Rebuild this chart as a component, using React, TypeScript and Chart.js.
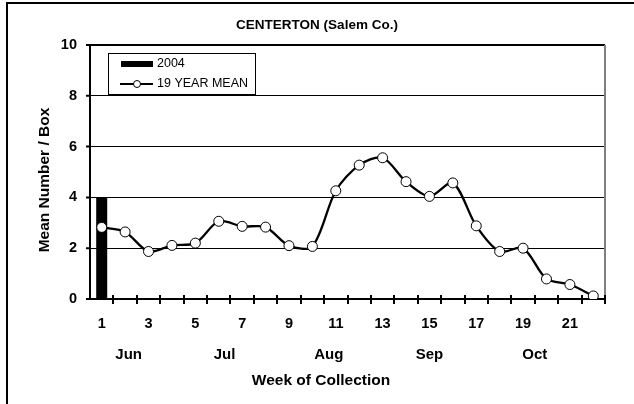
import React, { useEffect, useRef } from "react";
import { Chart, registerables } from "chart.js";

Chart.register(...registerables);

const weeks = ["1","2","3","4","5","6","7","8","9","10","11","12","13","14","15","16","17","18","19","20","21","22"];
const year2004 = [4, null, null, null, null, null, null, null, null, null, null, null, null, null, null, null, null, null, null, null, null, null];
const mean19 = [2.82, 2.64, 1.87, 2.11, 2.2, 3.06, 2.86, 2.83, 2.1, 2.07, 4.26, 5.27, 5.56, 4.62, 4.04, 4.57, 2.88, 1.87, 2.0, 0.79, 0.57, 0.12];
const months = ["Jun", "Jul", "Aug", "Sep", "Oct"];
const monthWeeks = [2.15, 6.25, 10.7, 15.0, 19.5];
const yTicks = [0, 2, 4, 6, 8, 10];

const FONT = "'Liberation Sans', Arial, sans-serif";

const decorPlugin = {
  id: "decor",
  beforeDraw(chart: any) {
    const ctx = chart.ctx;
    ctx.save();
    ctx.fillStyle = "#ffffff";
    ctx.fillRect(0, 0, chart.width, chart.height);
    ctx.strokeStyle = "#000";
    ctx.lineWidth = 2;
    ctx.beginPath();
    ctx.moveTo(6, 3);
    ctx.lineTo(chart.width, 3);
    ctx.moveTo(7, 2);
    ctx.lineTo(7, chart.height);
    ctx.stroke();
    ctx.restore();
  },
  afterDraw(chart: any) {
    const ctx = chart.ctx;
    const a = chart.chartArea;
    const ys = chart.scales.y;
    ctx.save();
    ctx.strokeStyle = "#000";
    ctx.lineWidth = 2;
    ctx.beginPath();
    ctx.moveTo(a.left, a.top);
    ctx.lineTo(a.right, a.top);
    ctx.stroke();
    ctx.strokeStyle = "#808080";
    ctx.beginPath();
    ctx.moveTo(a.right, a.top);
    ctx.lineTo(a.right, a.bottom);
    ctx.stroke();
    ctx.strokeStyle = "#000";
    ctx.lineWidth = 2;
    ctx.beginPath();
    yTicks.forEach((v) => {
      const y = ys.getPixelForValue(v);
      ctx.moveTo(a.left - 4, y);
      ctx.lineTo(a.left, y);
    });
    ctx.stroke();
    const n = weeks.length;
    const step = (a.right - a.left) / n;
    ctx.beginPath();
    for (let k = 1; k <= n; k++) {
      const x = Math.round(a.left + k * step);
      ctx.moveTo(x, a.bottom - 4);
      ctx.lineTo(x, a.bottom + 5);
    }
    ctx.stroke();
    ctx.fillStyle = "#000";
    ctx.font = `bold 15px ${FONT}`;
    ctx.textAlign = "center";
    ctx.textBaseline = "middle";
    months.forEach((m, i) => {
      const x = a.left + (monthWeeks[i] - 0.5) * step;
      ctx.fillText(m, x, 355);
    });
    ctx.font = `bold 15.5px ${FONT}`;
    ctx.fillText("Week of Collection", 321, 381);
    ctx.save();
    ctx.translate(45, (a.top + a.bottom) / 2 + 8);
    ctx.rotate(-Math.PI / 2);
    ctx.fillText("Mean Number / Box", 0, 0);
    ctx.restore();
    ctx.font = `bold 13.5px ${FONT}`;
    ctx.fillText("CENTERTON (Salem Co.)", 317, 25);
    ctx.fillStyle = "#fff";
    ctx.fillRect(108, 53, 148, 42);
    ctx.strokeStyle = "#000";
    ctx.lineWidth = 1;
    ctx.strokeRect(108.5, 53.5, 147, 41);
    ctx.fillStyle = "#000";
    ctx.fillRect(121, 61, 32, 6);
    ctx.lineWidth = 2;
    ctx.beginPath();
    ctx.moveTo(120, 84);
    ctx.lineTo(153, 84);
    ctx.stroke();
    ctx.fillStyle = "#fff";
    ctx.lineWidth = 1;
    ctx.beginPath();
    ctx.arc(137, 84, 3.5, 0, Math.PI * 2);
    ctx.fill();
    ctx.stroke();
    ctx.fillStyle = "#000";
    ctx.font = `12.5px ${FONT}`;
    ctx.textAlign = "left";
    ctx.fillText("2004", 157, 64);
    ctx.fillText("19 YEAR MEAN", 157, 84);
    ctx.restore();
  },
};

export default function App() {
  const ref = useRef<HTMLCanvasElement | null>(null);
  useEffect(() => {
    if (!ref.current) return;
    const chart = new Chart(ref.current, {
      type: "bar",
      data: {
        labels: weeks,
        datasets: [
          {
            type: "line",
            label: "19 YEAR MEAN",
            data: mean19,
            borderColor: "#000",
            borderWidth: 2.3,
            backgroundColor: "#fff",
            pointBackgroundColor: "#fff",
            pointBorderColor: "#000",
            pointBorderWidth: 1,
            pointRadius: 5,
            tension: 0.3,
            order: 0,
          } as any,
          {
            type: "bar",
            label: "2004",
            data: year2004,
            backgroundColor: "#000",
            borderWidth: 0,
            barPercentage: 0.47,
            categoryPercentage: 1,
            order: 1,
          } as any,
        ],
      },
      options: {
        responsive: false,
        animation: false,
        devicePixelRatio: 1,
        layout: { padding: { top: 45, right: 29, left: 0, bottom: 0 } },
        plugins: { legend: { display: false }, title: { display: false }, tooltip: { enabled: false } },
        scales: {
          x: {
            type: "category",
            offset: true,
            afterFit: (s: any) => { s.height = 105; },
            grid: { display: true, drawOnChartArea: false, drawTicks: false, offset: true },
            border: { display: true, color: "#000", width: 2 },
            ticks: {
              autoSkip: false,
              maxRotation: 0,
              minRotation: 0,
              padding: 16,
              color: "#000",
              font: { family: FONT, size: 14.5, weight: "bold" },
              callback: (_v: any, i: number) => (i % 2 === 0 ? weeks[i] : ""),
            },
          },
          y: {
            min: 0,
            max: 10,
            afterFit: (s: any) => { s.width = 90; },
            grid: { display: true, color: "#000", lineWidth: 1, drawTicks: false },
            border: { display: true, color: "#000", width: 2 },
            ticks: {
              stepSize: 2,
              padding: 13,
              color: "#000",
              font: { family: FONT, size: 14.5, weight: "bold" },
            },
          },
        },
      },
      plugins: [decorPlugin],
    });
    return () => chart.destroy();
  }, []);
  return (
    <div style={{ position: "absolute", left: 0, top: 0, width: 634, height: 404 }}>
      <canvas ref={ref} width={634} height={404} style={{ display: "block" }} />
    </div>
  );
}
